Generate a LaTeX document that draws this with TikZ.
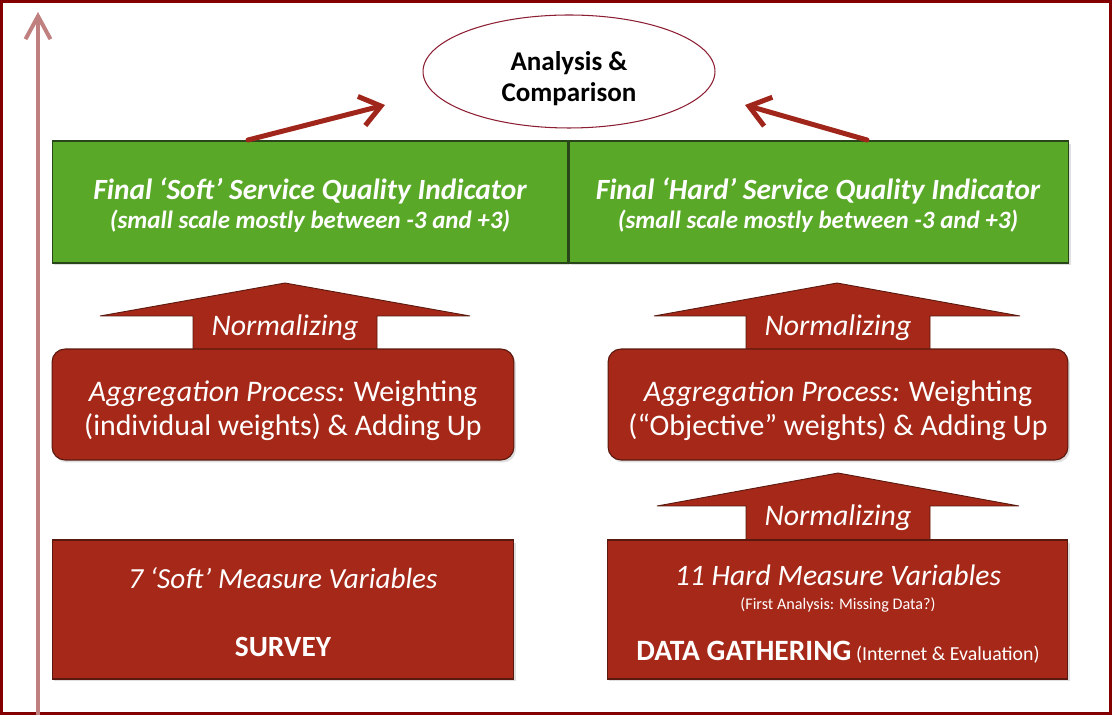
\documentclass[tikz,border=0pt]{standalone}
\usepackage{fontspec}
\setmainfont{Carlito}
\usetikzlibrary{positioning,shapes.geometric,arrows.meta,shadows}

\definecolor{boxred}{RGB}{165,40,24}
\definecolor{boxedge}{RGB}{90,25,15}
\definecolor{boxgreen}{RGB}{90,168,40}
\definecolor{greenedge}{RGB}{40,70,25}
\definecolor{linkred}{RGB}{160,38,28}
\definecolor{framered}{RGB}{130,0,0}
\definecolor{axisred}{RGB}{192,128,128}
\definecolor{ovaledge}{RGB}{140,30,50}

\begin{document}
\begin{tikzpicture}[x=0.02cm,y=-0.02cm]
\tikzstyle{every node}+=[inner sep=0pt]
\tikzstyle{greenbox}=[draw=greenedge,line width=0.6pt,fill=boxgreen,minimum height=2.44cm,drop shadow={opacity=0.25,shadow xshift=0.04cm,shadow yshift=-0.05cm}]
\tikzstyle{redbox}=[draw=boxedge,line width=0.6pt,fill=boxred,drop shadow={opacity=0.25,shadow xshift=0.04cm,shadow yshift=-0.05cm}]
\tikzstyle{boxtext}=[text=white]
\tikzstyle{normarrow}=[draw=boxedge,line width=0.5pt,fill=boxred]
\tikzstyle{normtext}=[text=white,font=\itshape\fontsize{17}{20}\selectfont]
\tikzstyle{link}=[draw=linkred,line width=0.1cm,line cap=round,-{Straight Barb[length=0.4cm,width=0.6cm]}]
\useasboundingbox (0,0) rectangle (1112,715);
\draw [framered,line width=0.06cm] (1.5,1.5) rectangle (1110.5,713.5);
% time axis on the left
\coordinate (axisBot) at (38,715);
\coordinate (axisTop) at (38,12);
\draw [axisred,line width=0.08cm,-{Straight Barb[length=0.46cm,width=0.5cm]}] (axisBot) -- (axisTop);
% top oval
\node [ellipse,draw=ovaledge,line width=0.6pt,minimum width=5.84cm,minimum height=2.26cm] (ana) at (569,71.5) {};
\node [align=center,font=\bfseries\fontsize{15.4}{17.6}\selectfont] (anaT) at (569,79) {Analysis \&\\Comparison};
% final indicators
\node [greenbox,minimum width=10.32cm] (soft) at (310,202) {};
\node [greenbox,minimum width=10cm,right=0pt of soft] (hard) {};
\node [boxtext,font=\bfseries\itshape\fontsize{16.7}{20}\selectfont] (softT) at (310,191) {Final `Soft' Service Quality Indicator};
\node [boxtext,font=\bfseries\itshape\fontsize{14.2}{17}\selectfont] (softS) at (310,221) {(small scale mostly between -3 and +3)};
\node [boxtext,font=\bfseries\itshape\fontsize{16.7}{20}\selectfont] (hardT) at (818,191) {Final `Hard' Service Quality Indicator};
\node [boxtext,font=\bfseries\itshape\fontsize{14.2}{17}\selectfont] (hardS) at (818,221) {(small scale mostly between -3 and +3)};
\coordinate (sTail) at (248,140);
\coordinate (sTip) at (385,105);
\coordinate (hTail) at (867,140);
\coordinate (hTip) at (745,105);
\draw [link] (sTail) -- (sTip);
\draw [link] (hTail) -- (hTip);
% normalizing arrows
\filldraw [normarrow] (285,283) -- (470,316) -- (377,316) -- (377,352) -- (193,352) -- (193,316) -- (100,316) -- cycle;
\filldraw [normarrow] (837,283) -- (1020,316) -- (930,316) -- (930,352) -- (746,352) -- (746,316) -- (654,316) -- cycle;
\filldraw [normarrow] (838,473) -- (1019,506) -- (930,506) -- (930,543) -- (746,543) -- (746,506) -- (657,506) -- cycle;
\node [normtext] (normS) at (285,328) {Normalizing};
\node [normtext] (normH) at (838,328) {Normalizing};
\node [normtext] (normD) at (838,518) {Normalizing};
% aggregation
\node [redbox,rounded corners=0.26cm,minimum width=9.24cm,minimum height=2.22cm] (aggS) at (283,404.5) {};
\node [redbox,rounded corners=0.26cm,minimum width=9.2cm,minimum height=2.22cm] (aggH) at (838,404.5) {};
\node [boxtext,align=center,font=\fontsize{17}{19.3}\selectfont] (aggST) at (283,411) {\textit{Aggregation Process:} Weighting\\(individual weights) \& Adding Up};
\node [boxtext,align=center,font=\fontsize{17}{19.3}\selectfont] (aggHT) at (838,411) {\textit{Aggregation Process:} Weighting\\(``Objective'' weights) \& Adding Up};
% measure variables
\node [redbox,minimum width=9.24cm,minimum height=2.78cm] (svy) at (283,609.5) {};
\node [boxtext,font=\itshape\fontsize{16.6}{20}\selectfont] (svyT) at (283,578) {7 `Soft' Measure Variables};
\node [boxtext,font=\bfseries\fontsize{16.7}{20}\selectfont] (svyS) at (283,647) {SURVEY};
\node [redbox,minimum width=9.22cm,minimum height=2.78cm] (dat) at (837.5,609.5) {};
\node [boxtext,font=\itshape\fontsize{16.9}{20}\selectfont] (datT) at (838,575) {11 Hard Measure Variables};
\node [boxtext,font=\fontsize{9.2}{11}\selectfont] (datN) at (838,605) {(First Analysis: Missing Data?)};
\node [boxtext,font=\fontsize{11.3}{14}\selectfont] (datS) at (838,652) {{\bfseries\fontsize{16.8}{20}\selectfont DATA GATHERING} (Internet \& Evaluation)};
\end{tikzpicture}
\end{document}
